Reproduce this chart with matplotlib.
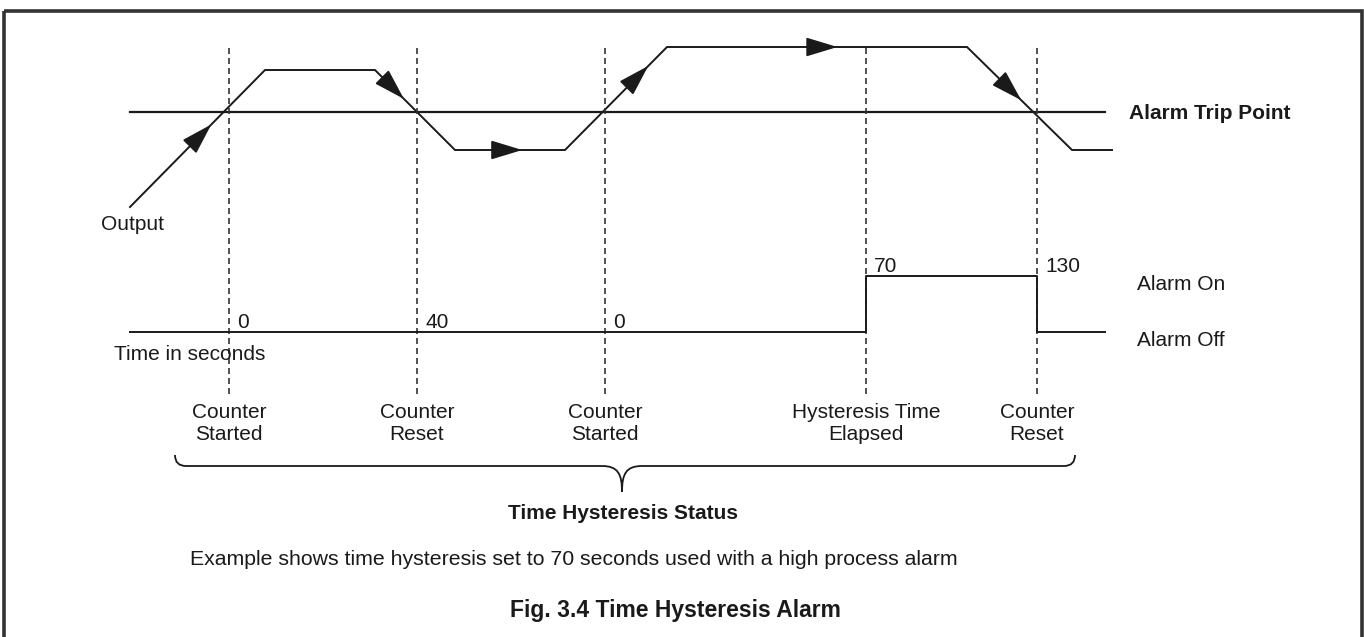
import matplotlib
matplotlib.use("Agg")
import matplotlib.pyplot as plt
import numpy as np
from matplotlib.path import Path
from matplotlib.patches import PathPatch, Polygon, Rectangle

plt.rcParams['font.family'] = ['Liberation Sans', 'DejaVu Sans']

# ---- data (pixel space of the diagram) ----
event_x = [229, 417, 605, 866, 1037]
event_line1 = ["Counter", "Counter", "Counter", "Hysteresis Time", "Counter"]
event_line2 = ["Started", "Reset", "Started", "Elapsed", "Reset"]
time_labels = ["0", "40", "0", "70", "130"]
time_label_y = [328, 328, 328, 272, 272]

trip_y = 112
output_x = [130, 265, 375, 455, 565, 667, 967, 1072, 1112]
output_y = [207, 70, 70, 150, 150, 47, 47, 150, 150]
arrow_seg = [0, 2, 3, 4, 5, 6]
arrow_t = [0.59, 0.34, 0.59, 0.80, 0.56, 0.50]

alarm_off_y = 332
alarm_on_y = 276
alarm_x = [130, 866, 866, 1037, 1037, 1105]
alarm_y = [alarm_off_y, alarm_off_y, alarm_on_y, alarm_on_y, alarm_off_y, alarm_off_y]

W, H = 1364, 637
fig = plt.figure(figsize=(W / 100, H / 100), dpi=100)
ax = fig.add_axes([0, 0, 1, 1])
ax.set_xlim(0, W)
ax.set_ylim(H, 0)
ax.axis('off')

# border
ax.add_patch(Rectangle((4, 11), 1358, 700, fill=False, lw=2.6,
                       edgecolor='#333333', zorder=1))

lc = '#1a1a1a'
tc = '#1a1a1a'
# trip line
ax.plot([130, 1105], [trip_y, trip_y], color=lc, lw=1.6)
# output trace
ax.plot(output_x, output_y, color=lc, lw=1.4, solid_joinstyle='miter')

# arrowheads
alen, awid = 28, 17
for s, t in zip(arrow_seg, arrow_t):
    x0, y0 = output_x[s], output_y[s]
    x1, y1 = output_x[s + 1], output_y[s + 1]
    d = np.array([x1 - x0, y1 - y0], float)
    d /= np.hypot(*d)
    n = np.array([-d[1], d[0]])
    tip = np.array([x0 + t * (x1 - x0), y0 + t * (y1 - y0)])
    base = tip - alen * d
    tri = [tip, base + n * awid / 2, base - n * awid / 2]
    ax.add_patch(Polygon(tri, closed=True, color=lc, zorder=3))

# dashed event lines
for x in event_x:
    ax.plot([x, x], [48, 396], color='#333333', lw=1.2, ls=(0, (3.6, 2.4)))

# alarm trace
ax.plot(alarm_x, alarm_y, color=lc, lw=1.4)

fs = 15
for x, lab, y in zip(event_x, time_labels, time_label_y):
    ax.text(x + 8, y, lab, fontsize=fs, ha='left', va='baseline', color=tc)

for x, l1, l2 in zip(event_x, event_line1, event_line2):
    ax.text(x, 418, l1, fontsize=fs, ha='center', va='baseline', color=tc)
    ax.text(x, 440, l2, fontsize=fs, ha='center', va='baseline', color=tc)

ax.text(1129, 119, "Alarm Trip Point", fontsize=fs, fontweight='bold',
        ha='left', va='baseline', color=tc)
ax.text(1137, 290, "Alarm On", fontsize=fs, ha='left', va='baseline', color=tc)
ax.text(1137, 346, "Alarm Off", fontsize=fs, ha='left', va='baseline', color=tc)
ax.text(101, 230, "Output", fontsize=fs, ha='left', va='baseline', color=tc)
ax.text(114, 360, "Time in seconds", fontsize=fs, ha='left', va='baseline', color=tc)

# brace
bl, br, btop, bmid, btip, bc = 175, 1075, 455, 466, 492, 622
r = 11
verts = [(bl, btop), (bl, bmid), (bl + r, bmid),
         (bc - 20, bmid),
         (bc - 4, bmid), (bc, bmid + 8), (bc, btip),
         (bc, bmid + 8), (bc + 4, bmid), (bc + 20, bmid),
         (br - r, bmid),
         (br, bmid), (br, btop)]
codes = [Path.MOVETO, Path.CURVE3, Path.CURVE3,
         Path.LINETO,
         Path.CURVE4, Path.CURVE4, Path.CURVE4,
         Path.CURVE4, Path.CURVE4, Path.CURVE4,
         Path.LINETO,
         Path.CURVE3, Path.CURVE3]
ax.add_patch(PathPatch(Path(verts, codes), fill=False, lw=1.3, edgecolor=lc))

ax.text(623.5, 519, "Time Hysteresis Status", fontsize=fs, fontweight='bold',
        ha='center', va='baseline', color=tc)
ax.text(190, 565, "Example shows time hysteresis set to 70 seconds used with a high process alarm",
        fontsize=15.3, ha='left', va='baseline', color=tc)
ax.text(510, 617, "Fig. 3.4 Time Hysteresis Alarm", fontsize=16.5, fontweight='bold',
        ha='left', va='baseline', color=tc)

fig.savefig("out.png", dpi=100)
